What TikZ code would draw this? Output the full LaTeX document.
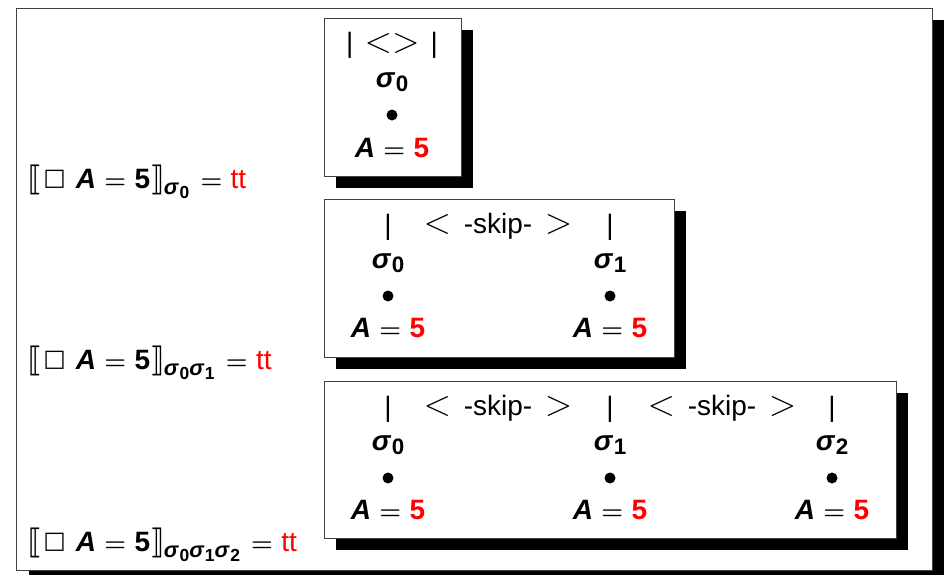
\documentclass[tikz,border=0pt]{standalone}
\usepackage{fontspec}
\setmainfont{Liberation Sans}
\newfontfamily\djv{DejaVu Sans}
\usetikzlibrary{shadows}
\newcommand{\bA}{\textbf{\textit{A}}}
\newcommand{\eqs}{\hspace{0.3em}{\boldmath$=$}\hspace{0.3em}}
\newcommand{\rfive}{\textcolor{red}{\textbf{5}}}
\newcommand{\sg}[1]{\textbf{\textit{σ}}\kern0.02em\raisebox{-0.3ex}{\scalebox{0.8}{\textbf{#1}}}}
\newcommand{\Aeq}{\bA\eqs\rfive}
\newcommand{\lt}{\scalebox{1.45}{$<$}}
\newcommand{\gt}{\scalebox{1.45}{$>$}}
\newcommand{\vb}{|}
\newcommand{\skp}{\lt\hspace{0.45em}-skip-\hspace{0.45em}\gt}
\newcommand{\lhs}[1]{{\djv\raisebox{-0.08em}{\scalebox{1}[1.2]{⟦}}}\kern0.05em{\djv\raisebox{0.08em}{\scalebox{0.85}{□}}}\hspace{0.35em}\bA\eqs\textbf{5}{\djv\raisebox{-0.08em}{\scalebox{1}[1.2]{⟧}}}\raisebox{-0.45ex}{\scalebox{0.78}{#1}}\hspace{0.1em}\eqs\textcolor{red}{tt}}
\tikzset{
  every node/.style={font=\fontsize{28}{32}\selectfont, inner sep=0pt},
  panel/.style={draw=black!75, line width=0.8pt, fill=white,
    drop shadow={shadow xshift=12pt, shadow yshift=-12pt, opacity=1, fill=black}},
  dot/.style={circle, fill=black, minimum size=11pt, inner sep=0pt},
  lbl/.style={anchor=base},
}
\begin{document}
\begin{tikzpicture}[x=1pt,y=-1pt]
\clip (0,0) rectangle (944,574);
\useasboundingbox (0,0) rectangle (944,574);
\fill[white] (0,0) rectangle (944,574);
% outer frame
\node[panel, minimum width=915.5pt, minimum height=562pt] (frame) at (474.25,289) {};
% box 1
\node[panel, minimum width=137pt, minimum height=158pt] (b1) at (392.5,97) {};
\node (b1bar) at (392,45) {\vb\hspace{0.4em}\lt\gt\hspace{0.4em}\vb};
\node[lbl] (b1s) at (392,87) {\sg{0}};
\node[dot] (b1d) at (392,115) {};
\node[lbl] (b1a) at (392,157) {\Aeq};
% box 2
\node[panel, minimum width=350pt, minimum height=158pt] (b2) at (499,278) {};
\node (b2p0) at (388,227) {\vb};
\node (b2k1) at (498,226) {\skp};
\node (b2p1) at (610,227) {\vb};
\node[lbl] (b2s0) at (388,268) {\sg{0}};
\node[lbl] (b2s1) at (610,268) {\sg{1}};
\node[dot] (b2d0) at (388,296) {};
\node[dot] (b2d1) at (610,296) {};
\node[lbl] (b2a0) at (388,337) {\Aeq};
\node[lbl] (b2a1) at (610,337) {\Aeq};
% box 3
\node[panel, minimum width=572pt, minimum height=157pt] (b3) at (610,459.5) {};
\node (b3p0) at (388,409) {\vb};
\node (b3k1) at (498,408) {\skp};
\node (b3p1) at (610,409) {\vb};
\node (b3k2) at (722,408) {\skp};
\node (b3p2) at (832,409) {\vb};
\node[lbl] (b3s0) at (388,450) {\sg{0}};
\node[lbl] (b3s1) at (610,450) {\sg{1}};
\node[lbl] (b3s2) at (832,450) {\sg{2}};
\node[dot] (b3d0) at (388,478) {};
\node[dot] (b3d1) at (610,478) {};
\node[dot] (b3d2) at (832,478) {};
\node[lbl] (b3a0) at (388,519) {\Aeq};
\node[lbl] (b3a1) at (610,519) {\Aeq};
\node[lbl] (b3a2) at (832,519) {\Aeq};
% left labels
\node[anchor=base west] (l1) at (28,188) {\lhs{\sg{0}}};
\node[anchor=base west] (l2) at (28,369) {\lhs{\sg{0}\sg{1}}};
\node[anchor=base west] (l3) at (28,551) {\lhs{\sg{0}\sg{1}\sg{2}}};
\end{tikzpicture}
\end{document}
